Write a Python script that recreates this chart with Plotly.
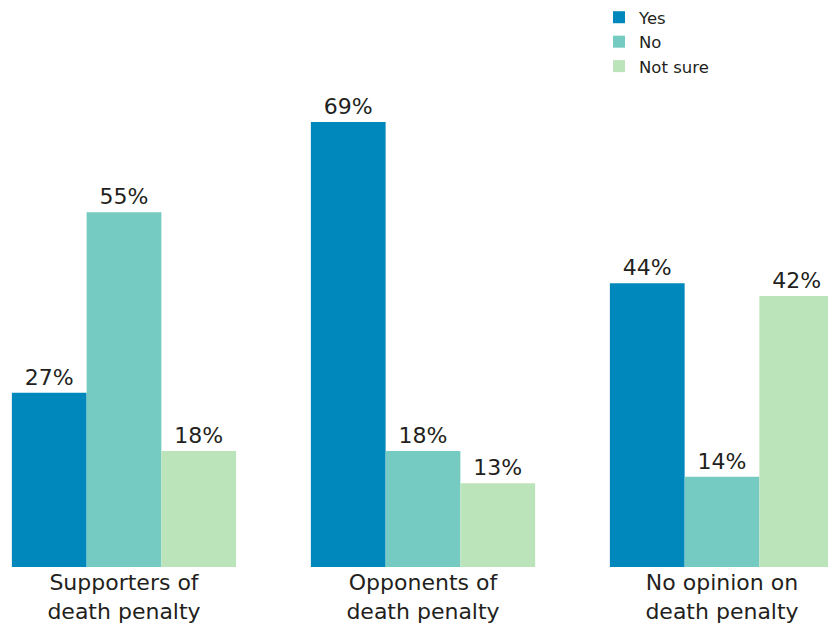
import plotly.graph_objects as go

categories = ["Supporters of<br>death penalty", "Opponents of<br>death penalty", "No opinion on<br>death penalty"]
series_names = ["Yes", "No", "Not sure"]
yes_vals = [27, 69, 44]
no_vals = [55, 18, 14]
notsure_vals = [18, 13, 42]
colors = ["#0087BB", "#75CAC1", "#BCE4BA"]

FONT = "DejaVu Sans, Arial, sans-serif"

fig = go.Figure()
positions = list(range(len(categories)))
for name, vals, col in zip(series_names, [yes_vals, no_vals, notsure_vals], colors):
    fig.add_trace(go.Bar(
        x=positions, y=vals, name=name,
        marker=dict(color=col, line=dict(width=0)),
        text=[f"{v}%" for v in vals], textposition="outside",
        textfont=dict(size=22, color="#231F20", family=FONT),
        cliponaxis=False,
    ))

fig.update_layout(
    width=828, height=627,
    margin=dict(l=0, r=0, t=0, b=60),
    barmode="group", bargap=0.25, bargroupgap=0,
    paper_bgcolor="white", plot_bgcolor="white",
    font=dict(family=FONT, color="#231F20"),
    xaxis=dict(
        range=[-0.4147, 2.3545], tickmode="array", tickvals=positions, ticktext=categories,
        showgrid=False, zeroline=False, showline=False, ticks="",
        tickfont=dict(size=22, color="#231F20", family=FONT),
    ),
    yaxis=dict(range=[0, 87.9], visible=False, showgrid=False, zeroline=False),
    legend=dict(
        x=599 / 828, y=1.0, xanchor="left", yanchor="top",
        font=dict(size=16.5, color="#231F20", family=FONT), bgcolor="rgba(0,0,0,0)",
        itemwidth=30, tracegroupgap=0,
    ),
    showlegend=True,
)

fig.write_html(
    "out.html",
    config={"displayModeBar": False},
    post_script="document.body.style.margin='0';document.body.style.overflow='hidden';",
)
